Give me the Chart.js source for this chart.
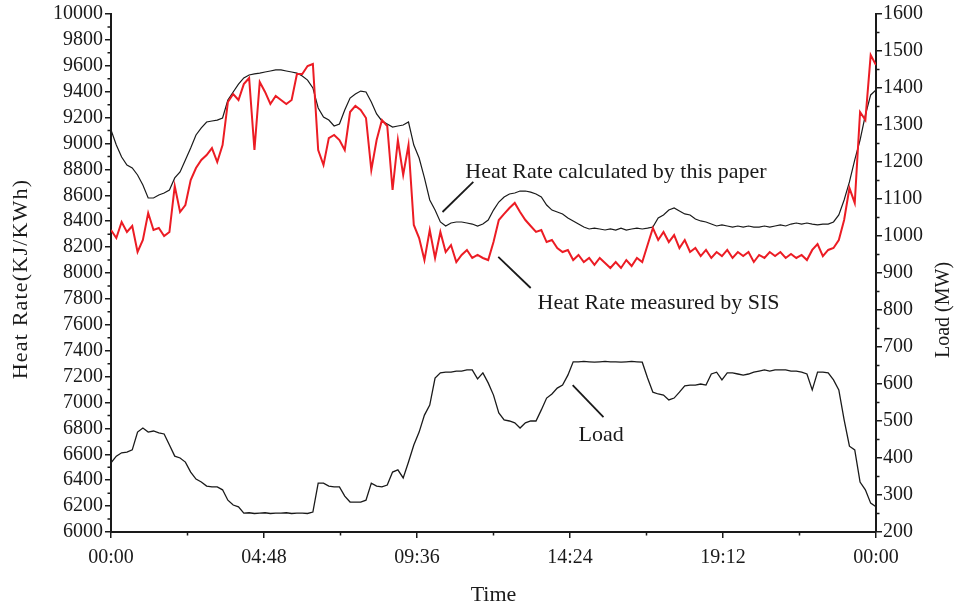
<!DOCTYPE html>
<html>
<head>
<meta charset="utf-8">
<script src="https://cdn.jsdelivr.net/npm/chart.js@4/dist/chart.umd.min.js"></script>
<style>
    html, body { margin: 0; padding: 0; background: #fff; }
    #wrap { width: 956px; height: 608px; }
</style>
</head>
<body>
<div id="wrap"><canvas id="c" width="956" height="608"></canvas></div>
<script>
// sample step in minutes, one value every 10 min from 00:00 to 24:00
const STEP_MIN = 10;

// Heat Rate calculated by this paper (KJ/KWh), one row per hour
const calcRate = [
    9104, 8988, 8896, 8834, 8811, 8757,
    8680, 8579, 8579, 8602, 8618, 8641,
    8734, 8780, 8873, 8965, 9066, 9120,
    9166, 9174, 9181, 9197, 9336, 9398,
    9459, 9506, 9529, 9537, 9544, 9552,
    9560, 9568, 9568, 9560, 9552, 9544,
    9521, 9490, 9429, 9274, 9205, 9181,
    9135, 9151, 9259, 9351, 9382, 9405,
    9398, 9320, 9228, 9174, 9151, 9127,
    9135, 9143, 9166, 8988, 8888, 8734,
    8564, 8486, 8394, 8363, 8386, 8394,
    8394, 8386, 8378, 8363, 8378, 8409,
    8486, 8548, 8587, 8610, 8618, 8633,
    8633, 8625, 8610, 8587, 8525, 8486,
    8471, 8456, 8425, 8402, 8378, 8355,
    8340, 8347, 8340, 8332, 8340, 8332,
    8347, 8332, 8340, 8347, 8340, 8347,
    8355, 8425, 8448, 8486, 8502, 8479,
    8456, 8448, 8417, 8402, 8394, 8378,
    8363, 8371, 8363, 8355, 8363, 8355,
    8363, 8355, 8355, 8363, 8355, 8363,
    8371, 8363, 8378, 8386, 8378, 8386,
    8378, 8371, 8378, 8378, 8394, 8448,
    8564, 8703, 8873, 9027, 9220, 9375,
    9413
];

// Heat Rate measured by SIS (KJ/KWh)
const sisRate = [
    8332, 8270, 8394, 8317, 8363, 8162,
    8255, 8463, 8332, 8347, 8286, 8317,
    8672, 8471, 8525, 8718, 8811, 8873,
    8911, 8965, 8857, 8988, 9320, 9382,
    9336, 9459, 9506, 8950, 9475, 9398,
    9305, 9367, 9336, 9305, 9336, 9537,
    9537, 9598, 9614, 8950, 8834, 9042,
    9066, 9027, 8950, 9243, 9290, 9259,
    9197, 8795, 9027, 9181, 9135, 8641,
    9027, 8757, 8988, 8371, 8270, 8100,
    8332, 8116, 8317, 8162, 8216, 8085,
    8139, 8178, 8116, 8139, 8116, 8100,
    8239, 8409, 8456, 8502, 8541, 8471,
    8409, 8363, 8317, 8332, 8239, 8255,
    8193, 8162, 8178, 8100, 8139, 8085,
    8116, 8062, 8116, 8077, 8039, 8085,
    8039, 8100, 8054, 8116, 8085, 8216,
    8347, 8255, 8317, 8239, 8293, 8193,
    8255, 8162, 8193, 8131, 8178, 8116,
    8162, 8131, 8178, 8116, 8162, 8131,
    8162, 8085, 8139, 8116, 8162, 8131,
    8162, 8116, 8147, 8116, 8139, 8100,
    8178, 8224, 8131, 8178, 8193, 8255,
    8409, 8656, 8541, 9243, 9181, 9683,
    9606
];

// Load (MW), right axis
const loadMW = [
    387, 405, 414, 416, 422, 470,
    481, 470, 473, 468, 465, 435,
    405, 400, 389, 362, 343, 335,
    324, 322, 322, 314, 286, 273,
    268, 251, 252, 250, 251, 252,
    250, 251, 251, 252, 250, 251,
    251, 250, 254, 332, 332, 324,
    322, 322, 297, 281, 281, 281,
    286, 332, 324, 322, 327, 362,
    368, 346, 389, 435, 470, 516,
    543, 616, 630, 632, 632, 635,
    635, 638, 638, 614, 630, 603,
    570, 522, 503, 500, 495, 481,
    495, 500, 500, 530, 562, 573,
    589, 597, 624, 660, 660, 661,
    660, 659, 660, 661, 660, 660,
    659, 660, 661, 660, 659, 616,
    578, 573, 570, 557, 562, 578,
    595, 597, 597, 600, 597, 627,
    632, 611, 630, 630, 627, 624,
    627, 632, 635, 638, 635, 638,
    638, 638, 635, 635, 632, 627,
    584, 632, 632, 630, 611, 584,
    503, 432, 422, 335, 314, 278,
    268
];

const timeTickStep = 288;   // 04:48
const rateAxis = {min: 6000, max: 10000, step: 200};
const loadAxis = {min: 200, max: 1600, step: 100};

// callout labels, anchored in data units (minutes, left-axis value)
const notes = [
    {text: 'Heat Rate calculated by this paper', at: [667, 8734], line: [[682, 8703], [624, 8471]]},
    {text: 'Heat Rate measured by SIS', at: [803, 7722], line: [[729, 8124], [790, 7884]]},
    {text: 'Load', at: [880, 6705], line: [[869, 7135], [927, 6888]]},
];

const SERIF = '"Liberation Serif", "Times New Roman", serif';
const INK = '#1a1a1a';

let toPoints = (vals) => vals.map((v, i) => ({x: i * STEP_MIN, y: v}));

let pad2 = (n) => (n < 10 ? '0' : '') + n;
let fmtTime = (v) => pad2(Math.floor(v / 60) % 24) + ':' + pad2(Math.round(v % 60));
let plain = (v) => String(v); // no thousands separator

// small ticks half way between the labelled ones
const minorTicks = {
    id: 'minorTicks',
    afterDraw(chart) {
        let ctx = chart.ctx;
        let area = chart.chartArea;
        ctx.save();
        ctx.strokeStyle = INK;
        ctx.lineWidth = 1.5;
        ctx.beginPath();
        let s = chart.scales.y;
        for (let v = rateAxis.min + rateAxis.step / 2; v < rateAxis.max; v += rateAxis.step) {
            let py = s.getPixelForValue(v);
            ctx.moveTo(area.left, py); ctx.lineTo(area.left - 3.5, py);
        }
        s = chart.scales.y1;
        for (let v = loadAxis.min + loadAxis.step / 2; v < loadAxis.max; v += loadAxis.step) {
            let py = s.getPixelForValue(v);
            ctx.moveTo(area.right, py); ctx.lineTo(area.right + 3.5, py);
        }
        s = chart.scales.x;
        for (let v = timeTickStep / 2; v < 1440; v += timeTickStep) {
            let px = s.getPixelForValue(v);
            ctx.moveTo(px, area.bottom); ctx.lineTo(px, area.bottom + 3.5);
        }
        ctx.stroke();
        ctx.restore();
    }
};

// axis titles (both read bottom to top) and the callouts
const extras = {
    id: 'extras',
    afterDraw(chart) {
        let ctx = chart.ctx;
        let area = chart.chartArea;
        let xs = chart.scales.x, ys = chart.scales.y;
        ctx.save();
        ctx.fillStyle = INK;
        ctx.textAlign = 'center';
        ctx.textBaseline = 'middle';

        ctx.save();
        ctx.translate(21, (area.top + area.bottom) / 2 + 6);
        ctx.rotate(-Math.PI / 2);
        ctx.font = '22px ' + SERIF;
        if ('letterSpacing' in ctx) ctx.letterSpacing = '1.2px';
        ctx.fillText('Heat Rate(KJ/KWh)', 0, 0);
        ctx.restore();

        ctx.save();
        ctx.translate(944, 310);
        ctx.rotate(-Math.PI / 2);
        ctx.font = '20px ' + SERIF;
        ctx.fillText('Load (MW)', 0, 0);
        ctx.restore();

        ctx.font = '22px ' + SERIF;
        ctx.textAlign = 'left';
        ctx.textBaseline = 'alphabetic';
        ctx.strokeStyle = INK;
        ctx.lineWidth = 1.8;
        notes.forEach((n) => {
            ctx.fillText(n.text, xs.getPixelForValue(n.at[0]), ys.getPixelForValue(n.at[1]));
            ctx.beginPath();
            ctx.moveTo(xs.getPixelForValue(n.line[0][0]), ys.getPixelForValue(n.line[0][1]));
            ctx.lineTo(xs.getPixelForValue(n.line[1][0]), ys.getPixelForValue(n.line[1][1]));
            ctx.stroke();
        });
        ctx.restore();
    }
};

let tickFont = {family: SERIF, size: 20};

new Chart(document.getElementById('c'), {
    type: 'line',
    data: {
        datasets: [
            {
                label: 'Heat Rate measured by SIS',
                data: toPoints(sisRate),
                borderColor: '#ec1c24',
                borderWidth: 2,
                yAxisID: 'y',
            },
            {
                label: 'Heat Rate calculated by this paper',
                data: toPoints(calcRate),
                borderColor: INK,
                borderWidth: 1.2,
                yAxisID: 'y',
            },
            {
                label: 'Load',
                data: toPoints(loadMW),
                borderColor: INK,
                borderWidth: 1.3,
                yAxisID: 'y1',
            },
        ]
    },
    options: {
        responsive: false,
        animation: false,
        elements: {point: {radius: 0}, line: {tension: 0}},
        layout: {padding: {top: 14, left: 0, right: 0, bottom: 0}},
        plugins: {legend: {display: false}, tooltip: {enabled: false}},
        scales: {
            x: {
                type: 'linear',
                min: 0,
                max: 1440,
                afterFit: (s) => { s.height = 76; },
                ticks: {stepSize: timeTickStep, callback: fmtTime, font: tickFont, color: INK, padding: 8, maxRotation: 0},
                grid: {drawOnChartArea: false, tickLength: 6, color: INK, lineWidth: 1.5},
                border: {color: INK, width: 2},
                title: {display: true, text: 'Time', font: {family: SERIF, size: 22}, color: INK, padding: {top: 0, bottom: 0}},
            },
            y: {
                position: 'left',
                min: rateAxis.min,
                max: rateAxis.max,
                afterFit: (s) => { s.width = 111; },
                ticks: {stepSize: rateAxis.step, callback: plain, font: tickFont, color: INK, padding: 2, autoSkip: false},
                grid: {drawOnChartArea: false, tickLength: 6, color: INK, lineWidth: 1.5},
                border: {color: INK, width: 2},
            },
            y1: {
                position: 'right',
                min: loadAxis.min,
                max: loadAxis.max,
                afterFit: (s) => { s.width = 80; },
                ticks: {stepSize: loadAxis.step, callback: plain, font: tickFont, color: INK, padding: 1, autoSkip: false},
                grid: {drawOnChartArea: false, tickLength: 6, color: INK, lineWidth: 1.5},
                border: {color: INK, width: 2},
            },
        }
    },
    plugins: [minorTicks, extras]
});
</script>
</body>
</html>
